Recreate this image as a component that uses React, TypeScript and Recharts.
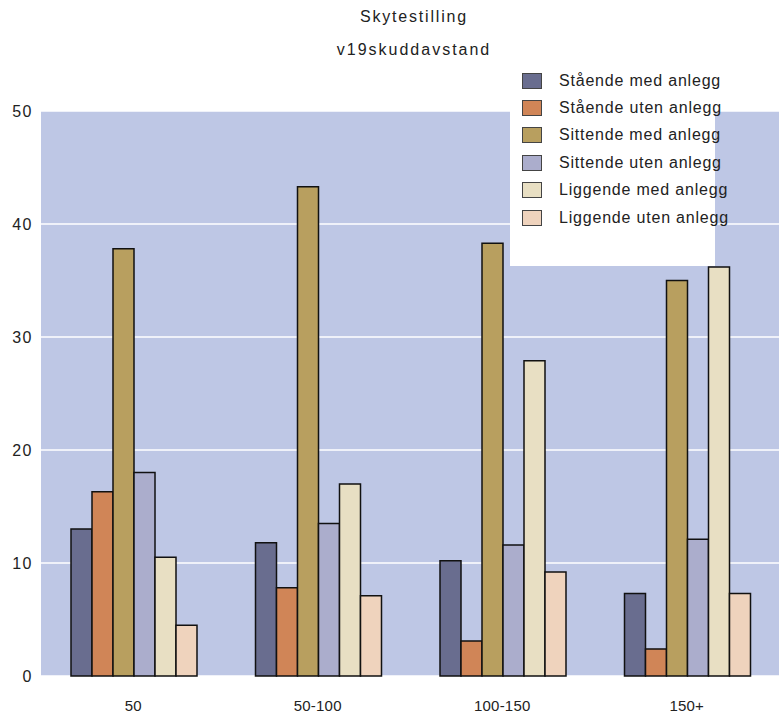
import { BarChart, Bar, XAxis, YAxis, CartesianGrid, Legend } from "recharts";

const categories = ["50", "50-100", "100-150", "150+"];
const staendeMed = [13.0, 11.8, 10.2, 7.3];
const staendeUten = [16.3, 7.8, 3.1, 2.4];
const sittendeMed = [37.8, 43.3, 38.3, 35.0];
const sittendeUten = [18.0, 13.5, 11.6, 12.1];
const liggendeMed = [10.5, 17.0, 27.9, 36.2];
const liggendeUten = [4.5, 7.1, 9.2, 7.3];
const yTicks = [0, 10, 20, 30, 40, 50];

const series = [
  { key: "sm", name: "Stående med anlegg", values: staendeMed, color: "#696d8f" },
  { key: "su", name: "Stående uten anlegg", values: staendeUten, color: "#d08557" },
  { key: "im", name: "Sittende med anlegg", values: sittendeMed, color: "#b89f5f" },
  { key: "iu", name: "Sittende uten anlegg", values: sittendeUten, color: "#abadcc" },
  { key: "lm", name: "Liggende med anlegg", values: liggendeMed, color: "#e8dfc3" },
  { key: "lu", name: "Liggende uten anlegg", values: liggendeUten, color: "#efd3bd" },
];

const data = categories.map((c, i) => {
  const row: Record<string, string | number> = { name: c };
  series.forEach((s) => (row[s.key] = s.values[i]));
  return row;
});

const font = '"Liberation Sans", Arial, sans-serif';

// legend keeps the series order (recharts sorts the payload by name otherwise)
const LegendBox = () => (
  <div
    style={{
      background: "#fff",
      width: 205,
      height: 206,
      paddingTop: 7,
      boxSizing: "border-box",
      fontFamily: font,
    }}
  >
    {series.map((s) => (
      <div
        key={s.key}
        style={{ height: 27.4, display: "flex", alignItems: "center", whiteSpace: "nowrap" }}
      >
        <span
          style={{
            display: "inline-block",
            flex: "none",
            width: 18,
            height: 14,
            marginLeft: 12,
            marginRight: 17,
            background: s.color,
            border: "1px solid #444",
          }}
        />
        <span style={{ fontSize: 16, letterSpacing: 0.8, color: "#222" }}>{s.name}</span>
      </div>
    ))}
  </div>
);

const App = () => {
  return (
    <div style={{ position: "absolute", left: 0, top: 0, width: 779, height: 715 }}>
      <BarChart
        width={779}
        height={715}
        data={data}
        margin={{ top: 111, right: 0, left: 0, bottom: 0 }}
        barCategoryGap={30}
        barGap={0}
      >
        <CartesianGrid
          vertical={false}
          fill="#bec7e5"
          fillOpacity={1}
          stroke="#ffffff"
          strokeWidth={1.5}
        />
        <XAxis
          dataKey="name"
          height={39}
          axisLine={false}
          tickLine={false}
          tickSize={0}
          tickMargin={24}
          tick={{ fontSize: 15, fill: "#222", fontFamily: font, letterSpacing: 0.2 }}
        />
        <YAxis
          width={41}
          domain={[0, 50]}
          ticks={yTicks}
          axisLine={false}
          tickLine={false}
          tickSize={0}
          tickMargin={8}
          tick={{ fontSize: 16, fill: "#222", fontFamily: font, letterSpacing: 1.5 }}
        />
        {series.map((s) => (
          <Bar
            key={s.key}
            dataKey={s.key}
            name={s.name}
            fill={s.color}
            stroke="#111"
            strokeWidth={1.5}
            isAnimationActive={false}
          />
        ))}
        <Legend
          layout="vertical"
          align="center"
          verticalAlign="middle"
          content={<LegendBox />}
          wrapperStyle={{ left: 510, top: 60, width: 205, height: 206 }}
        />
      </BarChart>
      <div
        style={{
          position: "absolute",
          left: 0,
          width: 828,
          top: 8,
          textAlign: "center",
          fontFamily: font,
          fontSize: 16,
          letterSpacing: 1.8,
          color: "#222",
        }}
      >
        Skytestilling
      </div>
      <div
        style={{
          position: "absolute",
          left: 0,
          width: 828,
          top: 41,
          textAlign: "center",
          fontFamily: font,
          fontSize: 16,
          letterSpacing: 2,
          color: "#222",
        }}
      >
        v19skuddavstand
      </div>
    </div>
  );
};

export default App;
